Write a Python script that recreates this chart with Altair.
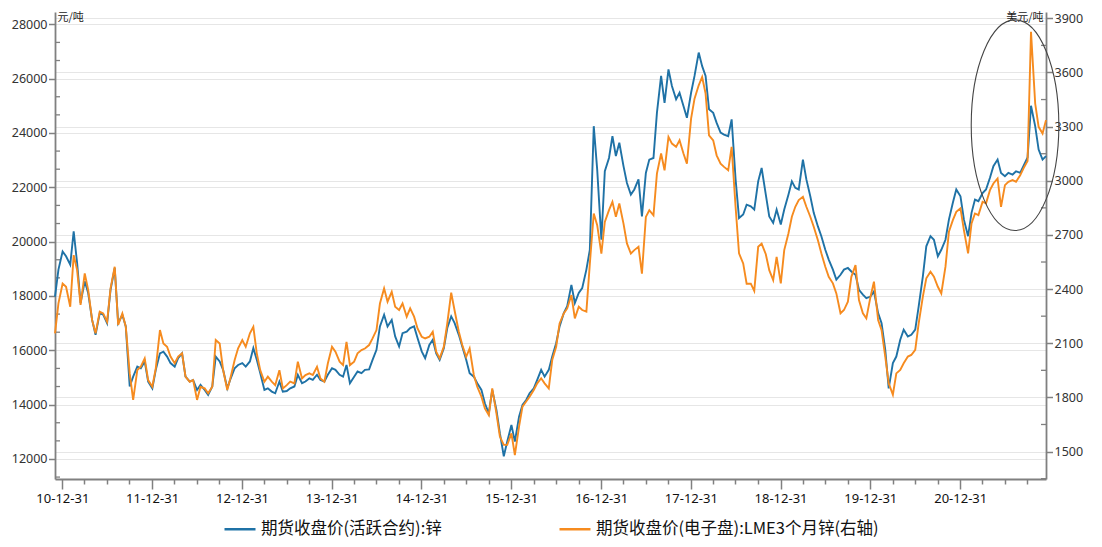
import altair as alt
import pandas as pd

# ---------------- data (semi-monthly readings) ----------------
dates = pd.date_range("2010-12-01", periods=266, freq="SMS").strftime("%Y-%m-%d").tolist()

shfe_zinc = [
    17980, 18970, 19640, 19460, 19150, 20380, 19210, 17740, 18540, 18110,
    17120, 16570, 17370, 17310, 17000, 18230, 19030, 17000, 17310, 16880,
    14670, 15030, 15400, 15340, 15590, 14850, 14600, 15280, 15890, 15950,
    15770, 15530, 15400, 15710, 15890, 15030, 14850, 14910, 14540, 14730,
    14540, 14360, 14670, 15770, 15590, 15280, 14600, 14970, 15340, 15460,
    15530, 15400, 15590, 16080, 15650, 15160, 14540, 14600, 14480, 14420,
    14850, 14480, 14500, 14600, 14670, 15100, 14790, 14850, 14970, 14910,
    15100, 14910, 14850, 15100, 15340, 15280, 15100, 15030, 15460, 14790,
    15030, 15220, 15160, 15280, 15300, 15650, 16020, 16880, 17310, 16880,
    17120, 16510, 16140, 16630, 16690, 16820, 16880, 16450, 15960, 15710,
    16200, 16390, 15890, 15650, 16080, 16820, 17250, 17000, 16570, 16140,
    15650, 15160, 15030, 14790, 14540, 14050, 13680, 14540, 13810, 12950,
    12100, 12640, 13250, 12640, 13560, 13990, 14170, 14420, 14600, 14910,
    15280, 15030, 15280, 15770, 16260, 16880, 17370, 17620, 18410, 17740,
    18110, 18290, 18970, 19700, 24250, 22650, 20070, 22590, 23080, 23880,
    23150, 23640, 22780, 22160, 21730, 21920, 22290, 20930, 22530, 23020,
    23080, 24740, 26100, 25110, 26340, 25730, 25240, 25480, 24990, 24560,
    25480, 26100, 26960, 26460, 26100, 24870, 24740, 24370, 24010, 23940,
    23880, 24500, 22300, 20870, 21000, 21360, 21300, 21180, 22220, 22710,
    21730, 20930, 20690, 21180, 20630, 21180, 21730, 22220, 21980, 21920,
    23020, 22290, 21670, 21060, 20560, 20200, 19700, 19340, 18970, 18600,
    18780, 18970, 19030, 18900, 18780, 18230, 18050, 17920, 17980, 18170,
    17370, 17000, 16020, 14600, 15530, 15770, 16390, 16760, 16510, 16570,
    16760, 17620, 18720, 19830, 20200, 20070, 19460, 19700, 20070, 20810,
    21430, 21920, 21670, 20810, 20200, 21060, 21550, 21490, 21790, 21920,
    22350, 22780, 23020, 22530, 22410, 22530, 22470, 22590, 22530, 22800,
    23100, 25000, 24250, 23390, 23020, 23150,
]

lme_zinc = [
    2155, 2321, 2431, 2413, 2302, 2588, 2505, 2312, 2487, 2395,
    2228, 2155, 2275, 2265, 2219, 2404, 2524, 2201, 2265, 2192,
    1933, 1786, 1952, 1970, 2016, 1896, 1859, 1961, 2173, 2099,
    2081, 2026, 1989, 2026, 2044, 1915, 1887, 1896, 1786, 1859,
    1850, 1823, 1859, 2118, 2099, 1952, 1841, 1915, 2007, 2072,
    2118, 2081, 2155, 2191, 2044, 1951, 1887, 1915, 1887, 1868,
    1951, 1850, 1868, 1887, 1878, 1998, 1905, 1924, 1933, 1924,
    1970, 1905, 1887, 1988, 2081, 2053, 1998, 1979, 2108, 1979,
    1998, 2044, 2062, 2071, 2090, 2127, 2173, 2320, 2404, 2330,
    2385, 2302, 2284, 2320, 2247, 2293, 2247, 2182, 2136, 2127,
    2136, 2164, 2053, 2016, 2081, 2210, 2380, 2280, 2164, 2090,
    2025, 2071, 1924, 1859, 1804, 1739, 1702, 1850, 1712, 1583,
    1537, 1537, 1601, 1481, 1638, 1749, 1777, 1804, 1841, 1878,
    1906, 1878, 1850, 2007, 2081, 2210, 2265, 2293, 2367, 2238,
    2302, 2284, 2275, 2540, 2819, 2754, 2597, 2772, 2837, 2883,
    2800, 2874, 2763, 2653, 2597, 2616, 2634, 2486, 2800, 2837,
    2809, 3040, 3151, 3058, 3243, 3206, 3188, 3224, 3151, 3095,
    3344, 3455, 3529, 3575, 3483, 3252, 3224, 3141, 3095, 3077,
    3058, 3188, 2856, 2598, 2542, 2430, 2430, 2390, 2635, 2652,
    2593, 2505, 2450, 2579, 2432, 2616, 2708, 2801, 2856, 2893,
    2911, 2856, 2801, 2745, 2671, 2598, 2524, 2468, 2432, 2376,
    2266, 2284, 2330, 2468, 2533, 2339, 2266, 2238, 2358, 2441,
    2229, 2173, 2026, 1878, 1815, 1933, 1952, 1989, 2026, 2035,
    2063, 2210, 2358, 2460, 2496, 2469, 2413, 2376, 2524, 2718,
    2782, 2828, 2847, 2727, 2598, 2764, 2819, 2810, 2884, 2875,
    2948, 2985, 3013, 2856, 2976, 2994, 3004, 2994, 3031, 3070,
    3110, 3825, 3428, 3299, 3262, 3336,
]

series_names = ["期货收盘价(活跃合约):锌", "期货收盘价(电子盘):LME3个月锌(右轴)"]
left_ticks = [12000, 14000, 16000, 18000, 20000, 22000, 24000, 26000, 28000]
right_ticks = [1500, 1800, 2100, 2400, 2700, 3000, 3300, 3600, 3900]
left_minor = [12000 + k * 2000 / 3 for k in range(-1, 24) if k % 3 != 0]
right_minor = [1350 + 300 * k for k in range(9)]
quarter_ends = [(y, m, d) for y in range(2010, 2022) for (m, d) in [(3, 31), (6, 30), (9, 30), (12, 31)]
                if (y, m) >= (2010, 12) and (y, m) <= (2021, 9)]

# annotation ellipse (centre in data coordinates)
ellipse_date = "2021-08-11"
ellipse_value = 3308

# ---------------- styling ----------------
COLORS = ["#1F72A6", "#F68B1F"]
CJK = "Noto Sans CJK SC"
NUM = "Noto Sans"
GRAY = "#808080"
W, H = 991, 467

df = pd.DataFrame({"date": dates, "shfe": shfe_zinc, "lme": lme_zinc})
long = pd.concat([
    pd.DataFrame({"date": df["date"], "value": df["shfe"], "series": series_names[0]}),
    pd.DataFrame({"date": df["date"], "value": df["lme"], "series": series_names[1]}),
])

x_enc = alt.X(
    "date:T", title=None,
    scale=alt.Scale(type="utc", nice=False, domain=[
        alt.DateTime(year=2010, month=12, date=1, utc=True),
        alt.DateTime(year=2021, month=12, date=15, utc=True)]),
    axis=alt.Axis(
        values=[alt.DateTime(year=y, month=m, date=d, utc=True) for (y, m, d) in quarter_ends],
        labelExpr="utcmonth(datum.value) == 11 ? utcFormat(datum.value, '%y-%m-%d') : ''",
        tickSize={"condition": {"test": "utcmonth(datum.value) == 11", "value": 10}, "value": 5},
        grid=False, labelFont=NUM, labelFontSize=13, labelColor="#111", labelPadding=3,
        labelFlush=False, labelOverlap=False, domainColor=GRAY, domainWidth=1.8,
        tickColor=GRAY, tickWidth=1.5),
)

common_axis = dict(grid=True, gridColor="#e6e6e6", gridWidth=1, tickSize=6.5, labelPadding=1.5,
                   labelFont=NUM, labelFontSize=12.5, labelColor="#333", domainColor=GRAY,
                   domainWidth=1.8, tickColor=GRAY, tickWidth=1.5, labelFlush=False,
                   labelOverlap=False, format="d", titleAngle=0, titleY=8,
                   titleBaseline="alphabetic", titleFont=CJK, titleFontSize=11,
                   titleFontWeight="normal", titleColor="#222")

yl = alt.Y("value:Q", scale=alt.Scale(domain=[11263, 28453], nice=False, zero=False),
           axis=alt.Axis(orient="left", values=left_ticks, title="元/吨", titleX=2,
                         titleAlign="left", **common_axis))
yr = alt.Y("value:Q", scale=alt.Scale(domain=[1348, 3935], nice=False, zero=False),
           axis=alt.Axis(orient="right", values=right_ticks, title="美元/吨", titleX=-3,
                         titleAlign="right", **common_axis))

color_enc = alt.Color(
    "series:N",
    scale=alt.Scale(domain=series_names, range=COLORS),
    legend=alt.Legend(title=None, orient="none", legendX=168, legendY=500, direction="horizontal",
                      symbolType="stroke", symbolSize=961, symbolStrokeWidth=2.5,
                      labelFont=CJK, labelFontSize=16.5, labelColor="#111", labelLimit=600,
                      columnPadding=112, labelOffset=4, padding=0),
)

blue = alt.Chart(long).transform_filter(alt.datum.series == series_names[0]).mark_line(
    strokeWidth=1.9).encode(x=x_enc, y=yl, color=color_enc)
lminor = alt.Chart(pd.DataFrame({"value": left_minor})).mark_rule(color=GRAY, strokeWidth=1.3).encode(
    y=yl, x=alt.value(0), x2=alt.value(5))

orange = alt.Chart(long).transform_filter(alt.datum.series == series_names[1]).mark_line(
    strokeWidth=1.9).encode(x=x_enc, y=yr, color=color_enc)
rminor = alt.Chart(pd.DataFrame({"value": right_minor})).mark_rule(color=GRAY, strokeWidth=1.3).encode(
    y=yr, x=alt.value(W - 5), x2=alt.value(W))

ELLIPSE_PATH = ("M 0.416 0 C 0.416 0.5523 0.2298 1 0 1 C -0.2298 1 -0.416 0.5523 -0.416 0 "
                "C -0.416 -0.5523 -0.2298 -1 0 -1 C 0.2298 -1 0.416 -0.5523 0.416 0 Z")
ellipse = alt.Chart(pd.DataFrame({"date": [ellipse_date], "value": [ellipse_value]})).mark_point(
    shape=ELLIPSE_PATH, size=44352, filled=False, color="#444", strokeWidth=1.1, opacity=1
).encode(x=x_enc, y=yr)

left = alt.layer(lminor, blue)
right = alt.layer(rminor, orange, ellipse)

chart = alt.layer(left, right).resolve_scale(y="independent").properties(
    width=W, height=H,
    padding={"left": 47, "top": 4, "right": 45, "bottom": 68},
    autosize=alt.AutoSizeParams(type="none"),
    background="white",
).configure_view(strokeWidth=0)

chart.save("out.html", embed_options={"renderer": "svg", "actions": False})
